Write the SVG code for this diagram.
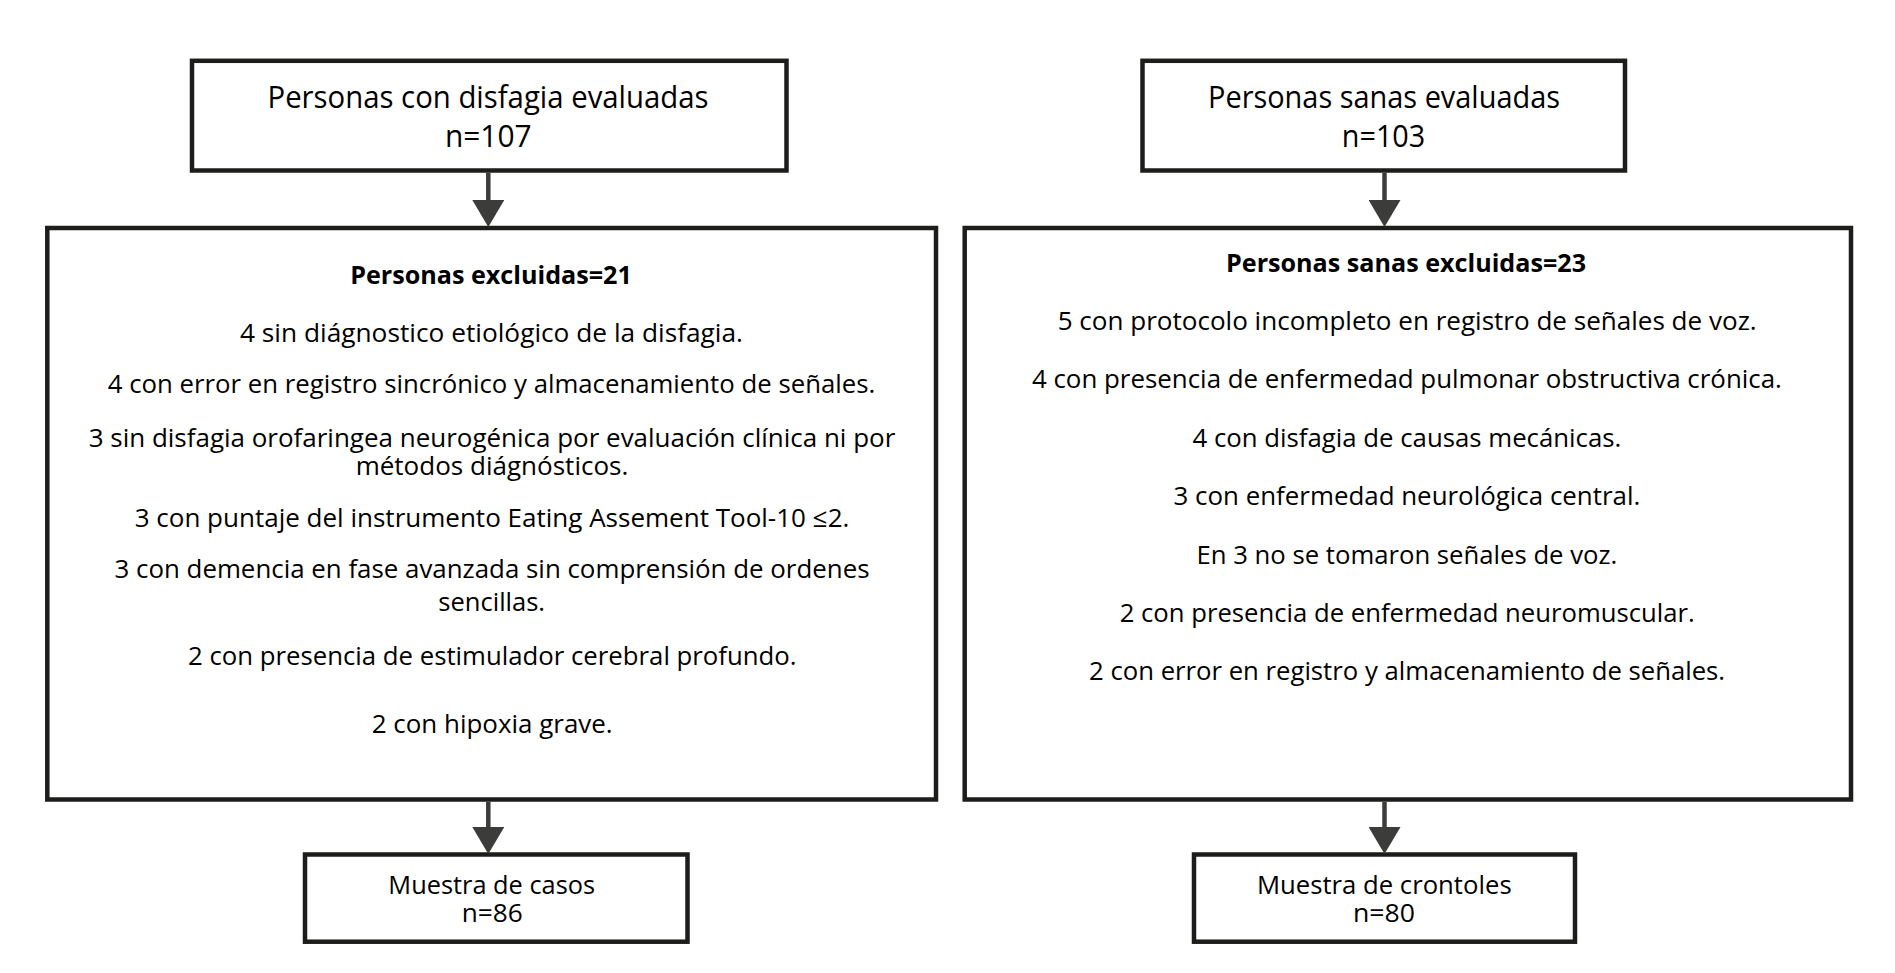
<svg xmlns="http://www.w3.org/2000/svg" width="1895" height="973" viewBox="0 0 1895 973">
<style>
.box{fill:#ffffff;stroke:#1d1d1b;stroke-width:4.5}
.t{font-family:"Open Sans","Liberation Sans",sans-serif;fill:#000;text-anchor:middle}
.h{font-size:31px}
.b{font-size:26px}
.bold{font-size:25px;font-weight:bold}
.s{font-size:26px}
.conn line{stroke:#3c3c3b;stroke-width:4.5}
</style>
<defs>
<marker id="ah" markerUnits="userSpaceOnUse" viewBox="0 0 27 32" refX="0" refY="16" markerWidth="27" markerHeight="32" orient="auto">
<path d="M0,0 L27,16 L0,32 Z" fill="#3c3c3b"/>
</marker>
</defs>
<rect width="1895" height="973" fill="#ffffff"/>

<g id="n-disfagia">
<rect class="box" x="192" y="60.8" width="594.5" height="109.7"/>
<text class="t h" x="488" y="107.5" textLength="441" lengthAdjust="spacingAndGlyphs">Personas con disfagia evaluadas</text>
<text class="t h" x="488.3" y="147.3" textLength="86.7" lengthAdjust="spacingAndGlyphs">n=107</text>
</g>

<g id="n-sanas">
<rect class="box" x="1142.5" y="60.8" width="482.5" height="109.7"/>
<text class="t h" x="1384" y="107.5" textLength="352" lengthAdjust="spacingAndGlyphs">Personas sanas evaluadas</text>
<text class="t h" x="1383.5" y="147.3" textLength="83.3" lengthAdjust="spacingAndGlyphs">n=103</text>
</g>

<g id="n-excluidas">
<rect class="box" x="47.3" y="228" width="888.7" height="571.5"/>
<text class="t bold" x="491" y="284" textLength="281.7" lengthAdjust="spacingAndGlyphs">Personas excluidas=21</text>
<text class="t b" x="491.5" y="342" textLength="503" lengthAdjust="spacingAndGlyphs">4 sin diágnostico etiológico de la disfagia.</text>
<text class="t b" x="491.5" y="393" textLength="767.5" lengthAdjust="spacingAndGlyphs">4 con error en registro sincrónico y almacenamiento de señales.</text>
<text class="t b" x="492" y="447" textLength="806.6" lengthAdjust="spacingAndGlyphs">3 sin disfagia orofaringea neurogénica por evaluación clínica ni por</text>
<text class="t b" x="492" y="475" textLength="272.7" lengthAdjust="spacingAndGlyphs">métodos diágnósticos.</text>
<text class="t b" x="492" y="527" textLength="714.7" lengthAdjust="spacingAndGlyphs">3 con puntaje del instrumento Eating Assement Tool-10 ≤2.</text>
<text class="t b" x="492" y="578" textLength="755" lengthAdjust="spacingAndGlyphs">3 con demencia en fase avanzada sin comprensión de ordenes</text>
<text class="t b" x="491.7" y="611" textLength="106.7" lengthAdjust="spacingAndGlyphs">sencillas.</text>
<text class="t b" x="492.3" y="665" textLength="608.6" lengthAdjust="spacingAndGlyphs">2 con presencia de estimulador cerebral profundo.</text>
<text class="t b" x="492.2" y="733" textLength="241" lengthAdjust="spacingAndGlyphs">2 con hipoxia grave.</text>
</g>

<g id="n-sanas-excluidas">
<rect class="box" x="964.7" y="228" width="886.3" height="571.5"/>
<text class="t bold" x="1406" y="271.7" textLength="360" lengthAdjust="spacingAndGlyphs">Personas sanas excluidas=23</text>
<text class="t b" x="1407.2" y="330" textLength="699" lengthAdjust="spacingAndGlyphs">5 con protocolo incompleto en registro de señales de voz.</text>
<text class="t b" x="1406.9" y="388.4" textLength="750" lengthAdjust="spacingAndGlyphs">4 con presencia de enfermedad pulmonar obstructiva crónica.</text>
<text class="t b" x="1406.9" y="446.8" textLength="428.8" lengthAdjust="spacingAndGlyphs">4 con disfagia de causas mecánicas.</text>
<text class="t b" x="1406.9" y="505.2" textLength="466.7" lengthAdjust="spacingAndGlyphs">3 con enfermedad neurológica central.</text>
<text class="t b" x="1406.9" y="563.6" textLength="420.8" lengthAdjust="spacingAndGlyphs">En 3 no se tomaron señales de voz.</text>
<text class="t b" x="1407.2" y="621.5" textLength="575" lengthAdjust="spacingAndGlyphs">2 con presencia de enfermedad neuromuscular.</text>
<text class="t b" x="1407.1" y="680.4" textLength="636" lengthAdjust="spacingAndGlyphs">2 con error en registro y almacenamiento de señales.</text>
</g>

<g id="n-casos">
<rect class="box" x="305" y="854.5" width="382.5" height="87.2"/>
<text class="t s" x="491.7" y="894" textLength="206.7" lengthAdjust="spacingAndGlyphs">Muestra de casos</text>
<text class="t s" x="492.2" y="921.7" textLength="61" lengthAdjust="spacingAndGlyphs">n=86</text>
</g>

<g id="n-controles">
<rect class="box" x="1194" y="854.5" width="381" height="87.2"/>
<text class="t s" x="1384.3" y="894" textLength="254.7" lengthAdjust="spacingAndGlyphs">Muestra de crontoles</text>
<text class="t s" x="1384" y="921.7" textLength="62" lengthAdjust="spacingAndGlyphs">n=80</text>
</g>

<g id="connectors" class="conn">
<line x1="488.3" y1="172.7" x2="488.3" y2="200" marker-end="url(#ah)"/>
<line x1="1384.5" y1="172.7" x2="1384.5" y2="200" marker-end="url(#ah)"/>
<line x1="488.3" y1="801.7" x2="488.3" y2="827" marker-end="url(#ah)"/>
<line x1="1384.5" y1="801.7" x2="1384.5" y2="827" marker-end="url(#ah)"/>
</g>
</svg>
